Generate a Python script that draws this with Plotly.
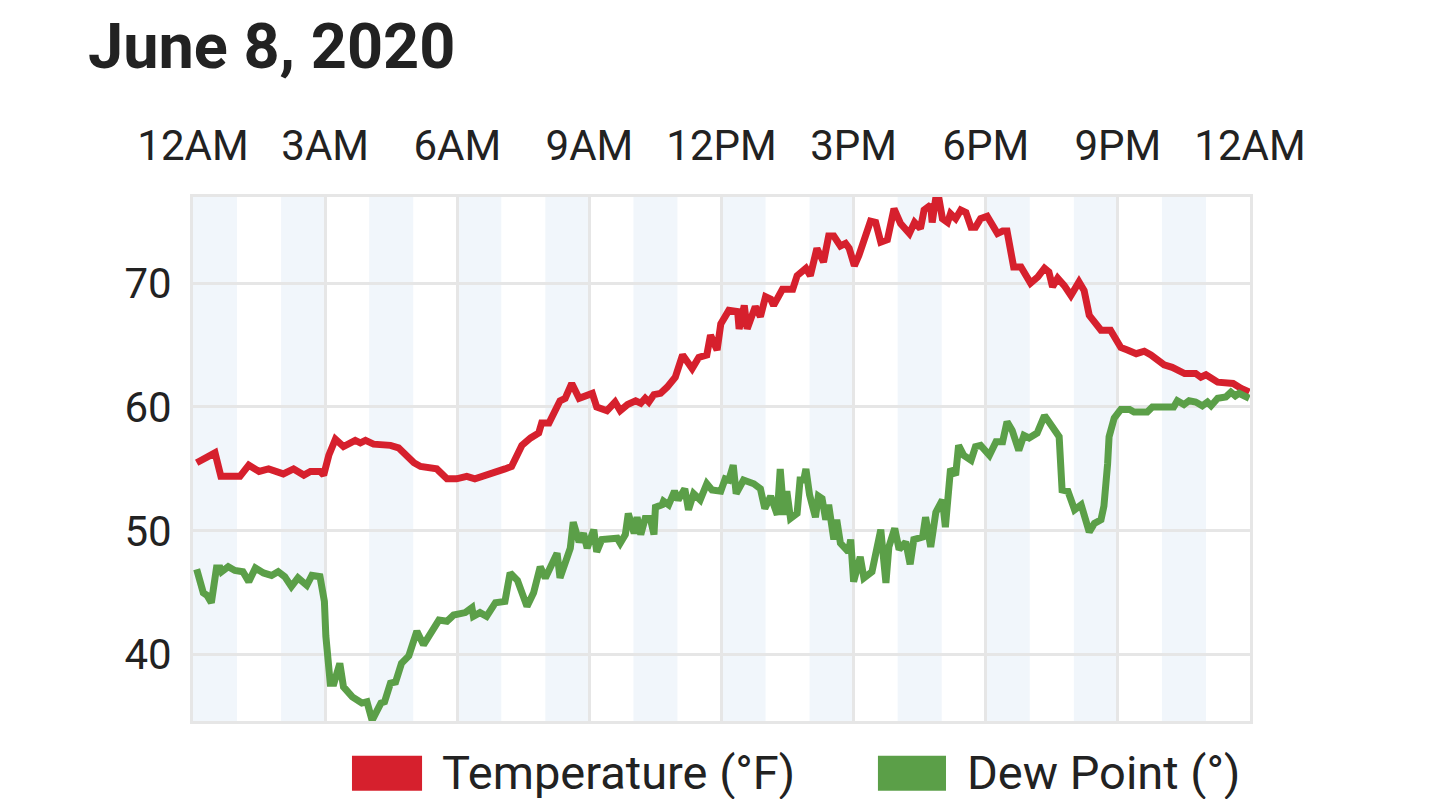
import pandas as pd
import plotly.graph_objects as go

DAY = "2020-06-08"

# temperature readings (°F)
temp_times = [
    "00:05", "00:16", "00:30", "00:38", "01:04", "01:16", "01:30", "01:43", "02:03", "02:17",
    "02:31", "02:40", "02:53", "02:58", "03:05", "03:14", "03:25", "03:41", "03:48", "03:55",
    "04:06", "04:29", "04:40", "05:01", "05:10", "05:32", "05:46", "05:59", "06:13", "06:24",
    "06:36", "06:52", "07:05", "07:14", "07:17", "07:28", "07:40", "07:51", "07:55", "08:05",
    "08:20", "08:27", "08:36", "08:46", "09:04", "09:10", "09:24", "09:35", "09:42", "09:52",
    "10:03", "10:10", "10:16", "10:21", "10:28", "10:37", "10:46", "10:57", "11:07", "11:20",
    "11:29", "11:40", "11:45", "11:54", "11:59", "12:10", "12:22", "12:24", "12:31", "12:35",
    "12:46", "12:53", "13:00", "13:07", "13:11", "13:23", "13:37", "13:43", "13:55", "14:01",
    "14:10", "14:19", "14:26", "14:33", "14:42", "14:49", "14:54", "15:01", "15:07", "15:23",
    "15:30", "15:37", "15:46", "15:55", "16:04", "16:16", "16:23", "16:31", "16:36", "16:45",
    "16:47", "16:52", "16:56", "17:01", "17:08", "17:12", "17:19", "17:26", "17:33", "17:40",
    "17:46", "17:53", "18:02", "18:16", "18:23", "18:29", "18:38", "18:48", "19:01", "19:11",
    "19:20", "19:26", "19:31", "19:38", "19:47", "19:56", "20:07", "20:14", "20:21", "20:37",
    "20:50", "21:04", "21:13", "21:25", "21:36", "21:45", "22:03", "22:14", "22:31", "22:46",
    "22:53", "23:00", "23:16", "23:37", "23:48", "23:59",
]
temp_values = [
    55.5, 55.8, 56.3, 54.4, 54.4, 55.3, 54.8, 55.0, 54.6, 55.0,
    54.5, 54.8, 54.8, 54.5, 56.1, 57.4, 56.8, 57.3, 57.1, 57.3,
    57.0, 56.9, 56.7, 55.5, 55.2, 55.0, 54.2, 54.2, 54.4, 54.2,
    54.4, 54.8, 55.0, 55.2, 55.6, 56.9, 57.5, 57.9, 58.7, 58.7,
    60.5, 60.7, 61.9, 60.7, 61.1, 60.0, 59.7, 60.4, 59.7, 60.2,
    60.5, 60.3, 60.7, 60.4, 61.0, 61.1, 61.6, 62.4, 64.2, 63.1,
    64.0, 64.2, 65.8, 64.6, 66.7, 67.8, 67.7, 66.3, 68.2, 66.3,
    68.1, 67.3, 68.9, 68.7, 68.2, 69.5, 69.5, 70.6, 71.2, 70.6,
    72.8, 71.7, 73.8, 73.8, 73.0, 73.2, 72.8, 71.4, 72.2, 75.0,
    74.9, 73.3, 73.5, 76.0, 74.8, 74.0, 74.9, 74.4, 75.9, 76.3,
    74.9, 76.9, 76.9, 75.2, 74.9, 75.6, 75.2, 75.9, 75.7, 74.5,
    74.5, 75.2, 75.4, 74.0, 74.2, 74.2, 71.3, 71.3, 70.0, 70.5,
    71.2, 70.9, 69.7, 70.4, 69.8, 69.0, 70.1, 69.4, 67.4, 66.2,
    66.2, 64.8, 64.6, 64.3, 64.5, 64.2, 63.4, 63.2, 62.7, 62.7,
    62.4, 62.6, 62.0, 61.9, 61.5, 61.2,
]

# dew point readings
dew_times = [
    "00:05", "00:14", "00:19", "00:25", "00:32", "00:37", "00:39", "00:48", "00:57", "01:08",
    "01:16", "01:25", "01:36", "01:47", "01:56", "02:05", "02:14", "02:23", "02:35", "02:42",
    "02:53", "02:59", "03:01", "03:07", "03:12", "03:20", "03:25", "03:37", "03:50", "03:57",
    "04:04", "04:16", "04:21", "04:29", "04:36", "04:44", "04:54", "05:05", "05:14", "05:23",
    "05:35", "05:46", "05:55", "06:11", "06:20", "06:22", "06:31", "06:40", "06:52", "07:05",
    "07:12", "07:22", "07:28", "07:35", "07:44", "07:53", "08:00", "08:09", "08:16", "08:20",
    "08:27", "08:34", "08:38", "08:46", "08:52", "08:57", "09:06", "09:10", "09:17", "09:31",
    "09:38", "09:42", "09:49", "09:53", "10:01", "10:05", "10:10", "10:16", "10:23", "10:28",
    "10:30", "10:39", "10:41", "10:48", "10:56", "11:01", "11:10", "11:15", "11:22", "11:31",
    "11:40", "11:47", "11:59", "12:05", "12:10", "12:16", "12:20", "12:30", "12:44", "12:53",
    "12:59", "13:07", "13:16", "13:20", "13:25", "13:29", "13:34", "13:43", "13:47", "13:52",
    "13:55", "14:00", "14:08", "14:12", "14:17", "14:22", "14:26", "14:33", "14:37", "14:42",
    "14:53", "14:56", "15:00", "15:09", "15:14", "15:25", "15:37", "15:44", "15:48", "15:56",
    "16:02", "16:11", "16:17", "16:22", "16:34", "16:38", "16:45", "16:52", "17:01", "17:05",
    "17:12", "17:19", "17:23", "17:30", "17:40", "17:46", "17:53", "18:05", "18:14", "18:23",
    "18:29", "18:36", "18:45", "18:52", "18:59", "19:10", "19:20", "19:26", "19:33", "19:40",
    "19:44", "19:52", "20:01", "20:10", "20:21", "20:28", "20:37", "20:41", "20:46", "20:48",
    "20:55", "21:04", "21:16", "21:22", "21:40", "21:47", "22:16", "22:21", "22:30", "22:37",
    "22:46", "22:55", "23:02", "23:07", "23:16", "23:27", "23:34", "23:40", "23:45", "23:59",
]
dew_values = [
    46.9, 45.0, 44.8, 44.2, 47.0, 47.0, 46.7, 47.1, 46.8, 46.7,
    45.9, 47.0, 46.6, 46.4, 46.7, 46.3, 45.5, 46.2, 45.6, 46.4,
    46.3, 44.3, 41.5, 37.7, 37.7, 39.3, 37.4, 36.6, 36.1, 36.2,
    34.7, 36.1, 36.2, 37.7, 37.8, 39.3, 39.9, 41.9, 40.8, 41.7,
    42.8, 42.7, 43.2, 43.4, 43.8, 43.1, 43.4, 43.1, 44.2, 44.3,
    46.6, 46.0, 45.1, 43.9, 45.0, 47.1, 46.2, 47.5, 48.2, 46.2,
    47.6, 48.6, 50.7, 49.1, 49.8, 48.6, 50.1, 48.3, 49.3, 49.3,
    49.4, 49.0, 49.7, 51.4, 49.8, 51.1, 49.7, 51.0, 51.0, 49.7,
    51.9, 52.1, 52.4, 52.1, 53.2, 52.5, 53.4, 51.7, 53.0, 52.5,
    53.8, 53.3, 53.2, 54.2, 54.1, 55.3, 53.0, 54.1, 53.8, 53.4,
    51.8, 52.8, 51.3, 55.0, 51.3, 53.2, 51.0, 51.4, 54.1, 54.1,
    55.0, 52.9, 51.1, 52.8, 52.6, 50.9, 52.1, 49.3, 50.9, 49.0,
    48.3, 49.3, 45.9, 47.9, 46.2, 46.7, 50.1, 45.8, 48.7, 50.2,
    48.5, 49.1, 47.3, 49.3, 49.5, 51.1, 48.7, 51.5, 52.5, 50.3,
    55.0, 54.5, 56.9, 56.1, 55.7, 56.8, 56.9, 56.1, 57.2, 57.2,
    58.8, 58.1, 56.5, 57.7, 57.5, 57.9, 59.3, 58.8, 58.3, 57.6,
    53.3, 53.2, 51.7, 52.1, 49.9, 50.6, 50.9, 52.0, 55.4, 57.6,
    59.1, 59.8, 59.8, 59.6, 59.6, 60.0, 60.0, 60.5, 60.2, 60.5,
    60.4, 60.1, 60.4, 60.1, 60.7, 60.8, 61.2, 60.9, 61.1, 60.7,
]

series_names = ["Temperature (°F)", "Dew Point (°)"]
series_colors = ["#d6202d", "#5b9f48"]
y_ticks = [40, 50, 60, 70]

FONT = "Roboto, 'Open Sans', sans-serif"
TEXT = "#222222"
GRID = "#e6e6e6"
BAND = "#f1f6fb"

# page body has an 8px margin, so the figure is 16px smaller than the window
W, H = 1424, 791

temp_x = pd.to_datetime([f"{DAY} {t}" for t in temp_times])
dew_x = pd.to_datetime([f"{DAY} {t}" for t in dew_times])
day_start = pd.Timestamp(DAY)
day_end = day_start + pd.Timedelta(hours=24)

fig = go.Figure()
fig.add_trace(go.Scatter(x=temp_x, y=temp_values, mode="lines", name=series_names[0],
                         line=dict(color=series_colors[0], width=7)))
fig.add_trace(go.Scatter(x=dew_x, y=dew_values, mode="lines", name=series_names[1],
                         line=dict(color=series_colors[1], width=7)))

# shaded every other hour
for h in range(0, 24, 2):
    fig.add_shape(type="rect", xref="x", yref="paper",
                  x0=day_start + pd.Timedelta(hours=h), x1=day_start + pd.Timedelta(hours=h + 1),
                  y0=0, y1=1, fillcolor=BAND, line_width=0, layer="below")

# legend drawn by hand so the swatches can be big blocks
legend_items = [(0.1504, 0.2167, 0.2337), (0.648, 0.7124, 0.7304)]
for (x0, x1, tx), name, color in zip(legend_items, series_names, series_colors):
    fig.add_shape(type="rect", xref="paper", yref="paper", x0=x0, x1=x1,
                  y0=-0.133, y1=-0.0662, fillcolor=color, line_width=0)
    fig.add_annotation(xref="paper", yref="paper", x=tx, y=-0.0992, text=name,
                       showarrow=False, xanchor="left", yanchor="middle",
                       font=dict(size=47, color=TEXT, family=FONT))

fig.update_layout(
    width=W, height=H,
    margin=dict(l=185, r=182, t=189, b=78),
    paper_bgcolor="white", plot_bgcolor="white",
    showlegend=False,
    font=dict(family=FONT, color=TEXT),
    title=dict(text="June 8, 2020", x=80 / W, xref="container", xanchor="left",
               y=1 - 37.5 / H, yref="container", yanchor="middle",
               font=dict(size=63, color=TEXT, family=FONT, weight="bold")),
)
fig.update_xaxes(
    side="top", type="date", range=[day_start, day_end],
    dtick=3 * 3600 * 1000, tick0=day_start, tickformat="%-I%p",
    tickfont=dict(size=42, color=TEXT), ticklabelstandoff=17,
    showgrid=True, gridcolor=GRID, gridwidth=3,
    showline=True, linecolor=GRID, linewidth=3, mirror=True,
    zeroline=False, ticks="",
)
fig.update_yaxes(
    range=[34.65, 76.95], tickvals=y_ticks,
    tickfont=dict(size=42, color=TEXT), ticklabelstandoff=10,
    showgrid=True, gridcolor=GRID, gridwidth=3,
    showline=True, linecolor=GRID, linewidth=3, mirror=True,
    zeroline=False, ticks="",
)

fig.write_html("out.html")
